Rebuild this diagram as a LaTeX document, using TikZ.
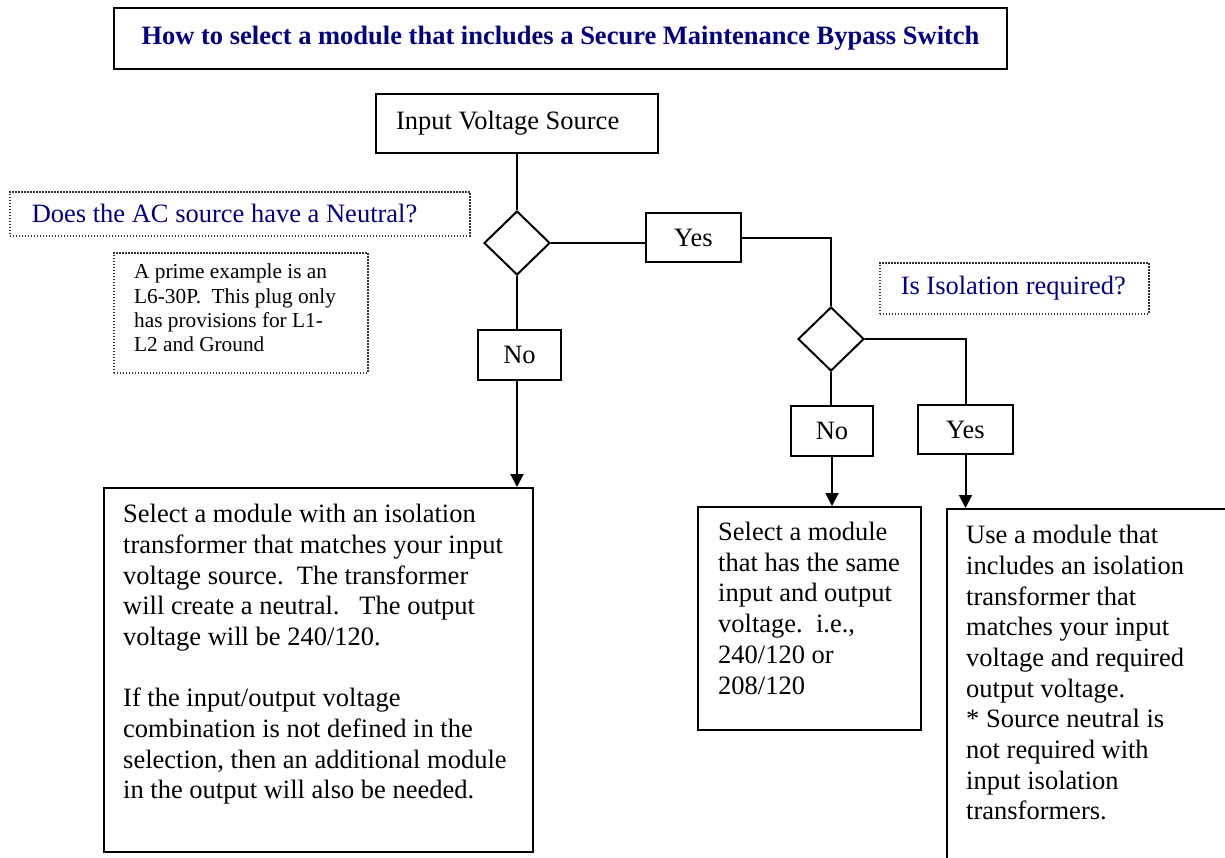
\documentclass[tikz,border=0pt]{standalone}
\usepackage{fontspec}
\setmainfont{Liberation Serif}
\usetikzlibrary{shapes.geometric,arrows.meta}
\definecolor{navy}{RGB}{0,0,128}
\begin{document}
\begin{tikzpicture}[x=1pt,y=-1pt,
  boxshape/.style={draw=black,line width=2pt,inner sep=0pt,anchor=north west,
    font=\fontsize{26.5}{30.7}\selectfont},
  dotbox/.style={draw=black!80,line width=1.5pt,dash pattern=on 1.5pt off 1.5pt,
    inner sep=0pt,anchor=north west},
  dec/.style={diamond,draw=black,line width=2pt,minimum width=66pt,minimum height=64pt,inner sep=0pt},
  conn/.style={line width=2pt},
  arr/.style={conn,-{Triangle[length=13pt,width=13pt]}},
  bodytext/.style={font=\fontsize{26.5}{30.7}\selectfont,align=left,inner sep=0pt,anchor=north west},
  smalltext/.style={font=\fontsize{21.3}{24.3}\selectfont,align=left,inner sep=0pt,anchor=north west},
  question/.style={text=navy,font=\fontsize{26.5}{30.7}\selectfont,align=flush left}
]
\useasboundingbox (0,0) rectangle (1225,857);

% title
\node[boxshape,minimum width=893pt,minimum height=61pt,text=navy,
  font=\bfseries\fontsize{26.5}{30.7}\selectfont] (title) at (113,7)
  {How to select a module that includes a Secure Maintenance Bypass Switch};

% start
\node[boxshape,minimum width=282pt,minimum height=59pt,text width=242pt,
  inner xsep=20pt,align=flush left] (input) at (375,93) {Input Voltage Source};

% questions
\node[dotbox,question,minimum width=460pt,minimum height=44pt,text width=416pt,
  inner xsep=22pt] (q1) at (9,191) {Does the AC source have a Neutral?};
\node[dotbox,minimum width=254pt,minimum height=120pt] (note) at (113,252) {};
\node[smalltext] (notetext) at (134,264)
  {A prime example is an\\L6-30P.\ \ This plug only\\has provisions for L1-\\L2 and Ground};
\node[dotbox,question,minimum width=269pt,minimum height=51pt,text width=233pt,
  inner xsep=18pt] (q2) at (879,262) {\hspace*{3pt}Is Isolation required?};

% decisions
\node[dec] (d1) at (517,243) {};
\node[dec] (d2) at (831,339) {};

% answers
\node[boxshape,minimum width=95pt,minimum height=49pt] (yes1) at (645,212) {Yes};
\node[boxshape,minimum width=83pt,minimum height=50pt] (no1) at (477,329) {No};
\node[boxshape,minimum width=82pt,minimum height=50pt] (no2) at (790,405) {No};
\node[boxshape,minimum width=95pt,minimum height=49pt] (yes2) at (917,404) {Yes};

% results
\node[boxshape,minimum width=429pt,minimum height=364pt] (box1) at (103,487) {};
\node[bodytext] (box1text) at (123,504)
  {Select a module with an isolation\\
   transformer that matches your input\\
   voltage source.\ \ The transformer\\
   will create a neutral.\ \ \ The output\\
   voltage will be 240/120.\\[30.7pt]
   If the input/output voltage\\
   combination is not defined in the\\
   selection, then an additional module\\
   in the output will also be needed.};

\node[boxshape,minimum width=223pt,minimum height=223pt] (box2) at (697,506) {};
\node[bodytext] (box2text) at (718,522)
  {Select a module\\that has the same\\input and output\\voltage.\ \ i.e.,\\240/120 or\\208/120};

\node[boxshape,minimum width=300pt,minimum height=380pt] (box3) at (946,508) {};
\node[bodytext] (box3text) at (966,525)
  {Use a module that\\includes an isolation\\transformer that\\matches your input\\voltage and required\\output voltage.\\* Source neutral is\\not required with\\input isolation\\transformers.};

% connectors
\draw[conn] (d1.north |- input.south) -- (d1.north);
\draw[conn] (d1.east) -- (d1.east -| yes1.west);
\draw[conn] (yes1.east) -| (d2.north);
\draw[conn] (d2.east) -| (yes2.north);
\draw[conn] (d2.south) -- (d2.south |- no2.north);
\draw[conn] (d1.south) -- (d1.south |- no1.north);
\draw[arr] (d1.south |- no1.south) -- (d1.south |- box1.north);
\draw[arr] (no2.south) -- (no2.south |- box2.north);
\draw[arr] (yes2.south) -- (yes2.south |- box3.north);
\end{tikzpicture}
\end{document}
